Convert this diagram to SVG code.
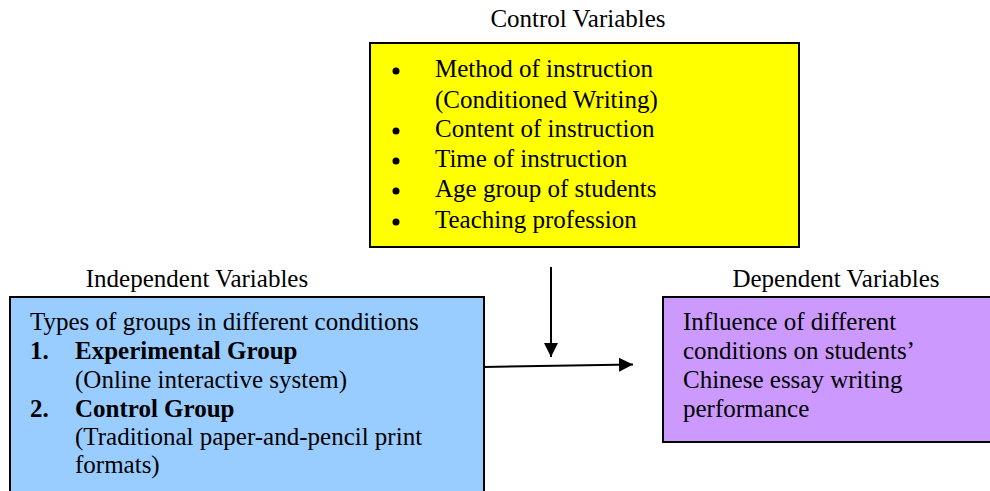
<svg xmlns="http://www.w3.org/2000/svg" width="990" height="491" viewBox="0 0 990 491">
<defs>
<style>
text { font-family: "Liberation Serif", "Times New Roman", serif; font-size: 25px; fill: #000; }
.b { font-weight: bold; }
.box { stroke: #000; stroke-width: 2; }
.conn { stroke: #000; stroke-width: 2; fill: none; }
</style>
<marker id="arr" viewBox="0 0 10 10" refX="10" refY="5" markerWidth="14" markerHeight="14" markerUnits="userSpaceOnUse" orient="auto">
<path d="M0,0 L10,5 L0,10 Z" fill="#000"/>
</marker>
</defs>
<rect width="990" height="491" fill="#fff"/>

<g id="control">
<text x="578" y="27" text-anchor="middle">Control Variables</text>
<rect class="box" x="370" y="43" width="429" height="204" fill="#FFFF00"/>
<circle cx="396" cy="71" r="3.5"/>
<circle cx="396" cy="131" r="3.5"/>
<circle cx="396" cy="161" r="3.5"/>
<circle cx="396" cy="191" r="3.5"/>
<circle cx="396" cy="222" r="3.5"/>
<text x="435" y="77">Method of instruction</text>
<text x="435" y="108">(Conditioned Writing)</text>
<text x="435" y="137">Content of instruction</text>
<text x="435" y="167">Time of instruction</text>
<text x="435" y="197">Age group of students</text>
<text x="435" y="228">Teaching profession</text>
</g>

<g id="independent">
<text x="197" y="287" text-anchor="middle">Independent Variables</text>
<rect class="box" x="10" y="297" width="474" height="200" fill="#99CCFF"/>
<text x="30" y="330">Types of groups in different conditions</text>
<text x="30" y="359" class="b">1.</text>
<text x="75" y="359" class="b">Experimental Group</text>
<text x="75" y="388">(Online interactive system)</text>
<text x="30" y="417" class="b">2.</text>
<text x="75" y="417" class="b">Control Group</text>
<text x="75" y="445">(Traditional paper-and-pencil print</text>
<text x="75" y="473">formats)</text>
</g>

<g id="dependent">
<text x="836" y="287" text-anchor="middle">Dependent Variables</text>
<rect class="box" x="663" y="297" width="340" height="145" fill="#CC99FF"/>
<text x="683" y="330">Influence of different</text>
<text x="683" y="359">conditions on students’</text>
<text x="683" y="388">Chinese essay writing</text>
<text x="683" y="417">performance</text>
</g>

<g id="connectors">
<line class="conn" x1="551" y1="267" x2="551" y2="357" marker-end="url(#arr)"/>
<line class="conn" x1="484" y1="367" x2="633" y2="364.5" marker-end="url(#arr)"/>
</g>
</svg>
